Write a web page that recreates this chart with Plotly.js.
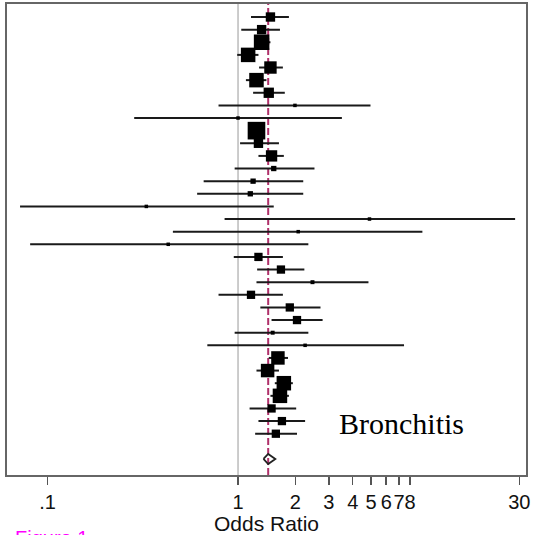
<!DOCTYPE html>
<html>
<head>
<meta charset="utf-8">
<script src="https://cdn.plot.ly/plotly-3.0.1.min.js"></script>
<style>html,body{margin:0;padding:0;background:#fff;}#chart{width:533px;height:535px;}</style>
</head>
<body>
<div id="chart"></div>
<script>
// Study-level odds ratios (rows from top to bottom)
const studyRows = [1,2,3,4,5,6,7,8,9,10,11,12,13,14,15,16,17,18,19,20,21,22,23,24,25,26,27,28,29,30,31,32,33,34];
const oddsRatio = [1.48,1.33,1.33,1.13,1.48,1.25,1.45,1.99,1.00,1.25,1.28,1.50,1.54,1.20,1.16,0.33,4.90,2.07,0.43,1.28,1.68,2.46,1.17,1.87,2.04,1.52,2.25,1.62,1.43,1.74,1.66,1.50,1.70,1.58];
const ciLower   = [1.17,1.04,1.22,0.99,1.29,1.10,1.20,0.79,0.285,1.15,1.025,1.28,0.96,0.66,0.61,0.0717,0.85,0.455,0.081,0.95,1.26,1.25,0.79,1.31,1.50,0.96,0.69,1.45,1.25,1.56,1.48,1.15,1.28,1.23];
const ciUpper   = [1.85,1.66,1.48,1.28,1.72,1.41,1.76,4.96,3.51,1.36,1.64,1.74,2.52,2.20,2.20,1.54,28.5,9.29,2.34,1.72,2.23,4.84,1.72,2.71,2.78,2.34,7.44,1.83,1.64,1.94,1.85,2.02,2.25,2.04];
const weights   = [2.8,2.8,7.7,6.7,4.9,6.7,3.4,0.3,0.1,9.9,2.8,4.1,0.9,0.9,0.9,0.3,0.3,0.3,0.3,2.2,2.2,0.5,2.2,2.2,2.2,0.5,0.3,5.8,5.8,6.7,6.7,2.2,2.2,2.2];
// Pooled estimate
const pooledRow = 36;
const pooledOR = 1.44;
const pooledLower = 1.36;
const pooledUpper = 1.57;
// Axis ticks
const tickValues = [0.1,1,2,3,4,5,6,7,8,30];
const tickLabels = ['.1','1','2','3','4','5','6','7','8','30'];

// CI segments
const ciX = [], ciY = [];
studyRows.forEach((r,i)=>{ ciX.push(ciLower[i], ciUpper[i], null); ciY.push(r, r, null); });

const sizes = weights.map(w => Math.max(3.5, 5.6*Math.sqrt(w)));

const dh = 0.4;
const traces = [
  {x: ciX, y: ciY, mode:'lines', line:{color:'#1a1a1a', width:2}, hoverinfo:'skip', showlegend:false},
  {x: oddsRatio, y: studyRows, mode:'markers', marker:{symbol:'square', color:'#000', opacity:1, size:sizes, line:{width:0}}, showlegend:false},
  {x:[pooledLower, pooledOR, pooledUpper, pooledOR, pooledLower],
   y:[pooledRow, pooledRow-dh, pooledRow, pooledRow+dh, pooledRow],
   mode:'lines', line:{color:'#222', width:1.8}, showlegend:false}
];

const layout = {
  width:533, height:535,
  margin:{l:7, r:7, t:4, b:60},
  paper_bgcolor:'#fff', plot_bgcolor:'#fff',
  showlegend:false,
  font:{family:'Liberation Sans, Arial, sans-serif', color:'#111'},
  xaxis:{
    type:'log', range:[-1.213, 1.512],
    tickvals: tickValues, ticktext: tickLabels, tickangle:0,
    ticks:'outside', ticklen:8, tickwidth:1.5, tickcolor:'#555',
    tickfont:{size:20, color:'#111'},
    showline:true, mirror:true, linecolor:'#666', linewidth:2,
    showgrid:false, zeroline:false,
    title:{text:'Odds Ratio', font:{size:21, color:'#111'}, standoff:4}
  },
  yaxis:{
    range:[37.27, -0.03], showticklabels:false, ticks:'',
    showline:true, mirror:true, linecolor:'#666', linewidth:2,
    showgrid:false, zeroline:false
  },
  shapes:[
    {type:'line', xref:'x', yref:'paper', x0:1, x1:1, y0:0, y1:1,
     line:{color:'#999', width:1}, layer:'below'},
    {type:'line', xref:'x', yref:'paper', x0:pooledOR, x1:pooledOR, y0:0, y1:1,
     line:{color:'#b0306a', width:2, dash:'7px,3px'}, layer:'below'}
  ],
  annotations:[
    {text:'Bronchitis', xref:'paper', yref:'paper', x:0.761, y:0.110, xanchor:'center', yanchor:'middle',
     showarrow:false, font:{family:'Liberation Serif, Times New Roman, serif', size:30, color:'#000'}},
    {text:'Figure 1', xref:'paper', yref:'paper', x:0.0116, y:-0.106, xanchor:'left', yanchor:'top',
     showarrow:false, font:{family:'Liberation Sans, Arial, sans-serif', size:20, color:'#ff00ff'}}
  ]
};

Plotly.newPlot('chart', traces, layout, {displayModeBar:false, staticPlot:true});
</script>
</body>
</html>
